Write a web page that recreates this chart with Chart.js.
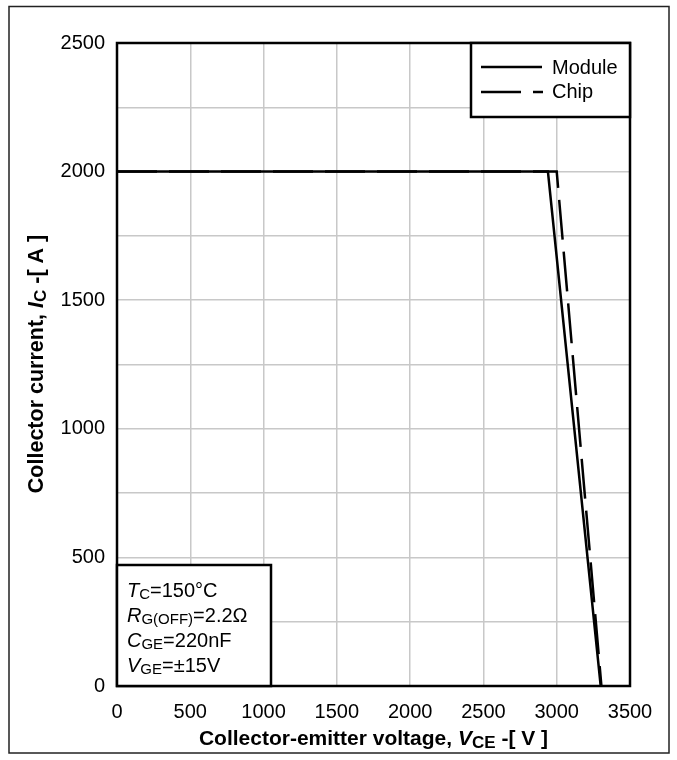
<!DOCTYPE html>
<html lang="en">
<head>
    <meta charset="UTF-8">
    <title>Reverse bias safe operating area</title>
    <script src="https://cdn.jsdelivr.net/npm/chart.js@4.4.1/dist/chart.umd.min.js"></script>
    <style>
        body {
            margin: 0;
            background: #fff;
        }
        #wrap {
            width: 677px;
            height: 760px;
            position: relative;
        }
    </style>
</head>
<body>
    <div id="wrap">
        <canvas id="chart" width="677" height="760"></canvas>
    </div>

    <script>
        // values
        const moduleV = [0, 2940, 3300];
        const moduleI = [2000, 2000, 0];
        const chipV = [0, 3000, 3305];
        const chipI = [2000, 2000, 0];

        const xTicks = [0, 500, 1000, 1500, 2000, 2500, 3000, 3500];
        const yTicks = [0, 500, 1000, 1500, 2000, 2500];

        const legendLabels = ['Module', 'Chip'];
        const conditions = [
            [['T', 'i'], ['C', 's'], ['=150°C', 'n']],
            [['R', 'i'], ['G(OFF)', 's'], ['=2.2Ω', 'n']],
            [['C', 'i'], ['GE', 's'], ['=220nF', 'n']],
            [['V', 'i'], ['GE', 's'], ['=±15V', 'n']]
        ];

        const FONT = '"Liberation Sans", Arial, sans-serif';
        const DASH = [40, 12];

        function pts(xs, ys) {
            return xs.map((x, i) => ({ x: x, y: ys[i] }));
        }

        // runs of text in different styles; n normal, i italic, s subscript
        function fontFor(style, size, bold, sub) {
            const b = bold ? 'bold ' : '';
            if (style === 'i') return 'italic ' + b + size + 'px ' + FONT;
            if (style === 's') return b + Math.round(size * sub) + 'px ' + FONT;
            return b + size + 'px ' + FONT;
        }
        function richWidth(ctx, parts, size, bold, sub) {
            let w = 0;
            parts.forEach(p => {
                ctx.font = fontFor(p[1], size, bold, sub);
                w += ctx.measureText(p[0]).width;
            });
            return w;
        }
        function drawRich(ctx, parts, x, y, size, bold, sub) {
            ctx.textBaseline = 'alphabetic';
            ctx.textAlign = 'left';
            let cx = x;
            parts.forEach(p => {
                ctx.font = fontFor(p[1], size, bold, sub);
                const dy = p[1] === 's' ? size * 0.12 : 0;
                ctx.fillText(p[0], cx, y + dy);
                cx += ctx.measureText(p[0]).width;
            });
        }

        const decorations = {
            id: 'decorations',
            afterDraw(chart) {
                const ctx = chart.ctx;
                const a = chart.chartArea;
                ctx.save();
                ctx.fillStyle = '#000';
                ctx.strokeStyle = '#000';

                // plot frame
                ctx.lineWidth = 2.5;
                ctx.strokeRect(a.left, a.top, a.right - a.left, a.bottom - a.top);

                // outer frame
                ctx.lineWidth = 1.5;
                ctx.strokeStyle = '#222';
                ctx.strokeRect(9, 6.5, 660, 746.5);
                ctx.strokeStyle = '#000';

                // legend box
                const lx = 471, ly = a.top, lw = a.right - 471, lh = 74;
                ctx.fillStyle = '#fff';
                ctx.fillRect(lx, ly, lw, lh);
                ctx.lineWidth = 2.5;
                ctx.strokeRect(lx, ly, lw, lh);
                ctx.fillStyle = '#000';
                ctx.beginPath();
                ctx.moveTo(481, 67);
                ctx.lineTo(542, 67);
                ctx.stroke();
                ctx.setLineDash(DASH);
                ctx.beginPath();
                ctx.moveTo(481, 92);
                ctx.lineTo(543, 92);
                ctx.stroke();
                ctx.setLineDash([]);
                ctx.font = '20px ' + FONT;
                ctx.textBaseline = 'middle';
                ctx.fillText(legendLabels[0], 552, 68);
                ctx.fillText(legendLabels[1], 552, 92);

                // conditions box
                const bx = a.left, by = 565, bw = 271 - a.left, bh = a.bottom - 565;
                ctx.fillStyle = '#fff';
                ctx.fillRect(bx, by, bw, bh);
                ctx.strokeRect(bx, by, bw, bh);
                ctx.fillStyle = '#000';
                conditions.forEach((line, i) => {
                    drawRich(ctx, line, 127, 597 + i * 25, 20, false, 0.74);
                });

                // x axis title
                const xt = [['Collector-emitter voltage, ', 'n'], ['V', 'i'], ['CE', 's'], [' -[ V ]', 'n']];
                const xw = richWidth(ctx, xt, 21, true, 0.8);
                drawRich(ctx, xt, (a.left + a.right) / 2 - xw / 2, 745, 21, true, 0.8);

                // y axis title
                const yt = [['Collector current, ', 'n'], ['I', 'i'], ['C', 's'], [' -[ A ]', 'n']];
                const yw = richWidth(ctx, yt, 21.5, true, 0.8);
                ctx.translate(43, 364);
                ctx.rotate(-Math.PI / 2);
                drawRich(ctx, yt, -yw / 2, 0, 21.5, true, 0.8);

                ctx.restore();
            }
        };

        new Chart(document.getElementById('chart'), {
            type: 'scatter',
            data: {
                datasets: [
                    {
                        label: legendLabels[0],
                        data: pts(moduleV, moduleI),
                        showLine: true,
                        borderColor: '#000',
                        borderWidth: 2.5,
                        pointRadius: 0,
                        tension: 0
                    },
                    {
                        label: legendLabels[1],
                        data: pts(chipV, chipI),
                        showLine: true,
                        borderColor: '#000',
                        borderWidth: 2.5,
                        borderDash: DASH,
                        pointRadius: 0,
                        tension: 0
                    }
                ]
            },
            options: {
                responsive: false,
                animation: false,
                layout: { padding: { left: 0, top: 43, right: 47, bottom: 0 } },
                plugins: {
                    legend: { display: false },
                    tooltip: { enabled: false }
                },
                scales: {
                    x: {
                        type: 'linear',
                        min: xTicks[0],
                        max: xTicks[xTicks.length - 1],
                        afterBuildTicks: s => { s.ticks = xTicks.map(v => ({ value: v })); },
                        afterFit: s => { s.height = 74; },
                        grid: { color: '#c8c8c8', lineWidth: 1.5, drawTicks: false },
                        border: { display: false },
                        ticks: {
                            color: '#000',
                            font: { family: FONT, size: 20 },
                            padding: 14,
                            maxRotation: 0,
                            callback: v => String(v)
                        }
                    },
                    y: {
                        type: 'linear',
                        min: yTicks[0],
                        max: yTicks[yTicks.length - 1],
                        ticks: {
                            stepSize: 250,
                            color: '#000',
                            font: { family: FONT, size: 20 },
                            padding: 12,
                            callback: v => (yTicks.includes(v) ? String(v) : '')
                        },
                        afterFit: s => { s.width = 117; },
                        grid: { color: '#c8c8c8', lineWidth: 1.5, drawTicks: false },
                        border: { display: false }
                    }
                }
            },
            plugins: [decorations]
        });
    </script>
</body>
</html>
